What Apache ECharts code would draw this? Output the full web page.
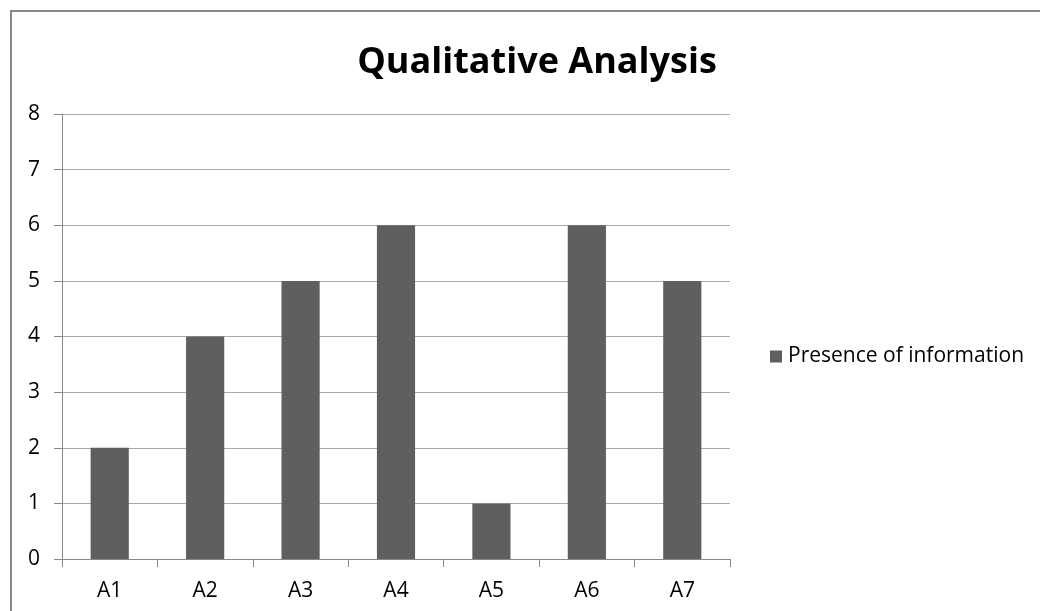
<!DOCTYPE html>
<html><head><meta charset="utf-8">
<script src="https://cdn.jsdelivr.net/npm/echarts@6/dist/echarts.min.js"></script>
<style>html,body{margin:0;padding:0;background:#fff}#c{width:1040px;height:611px}</style>
</head><body><div id="c"></div>
<script>
const categories = ['A1','A2','A3','A4','A5','A6','A7'];
const values = [2,4,5,6,1,6,5];
const seriesName = 'Presence of information';
const chart = echarts.init(document.getElementById('c'));
const font = '"Open Sans", sans-serif';
chart.setOption({
  animation: false,
  backgroundColor: '#fff',
  graphic: [{type:'rect', shape:{x:11,y:11,width:1200,height:800}, style:{fill:'none', stroke:'#888', lineWidth:2}, silent:true}],
  title: {text:'Qualitative Analysis', left:532, top:40, textAlign:'center',
    textStyle:{fontFamily:font, fontWeight:'bold', fontSize:36, color:'#000'}},
  legend: {orient:'vertical', left:765, top:341, icon:'rect', itemWidth:12, itemHeight:12, itemGap:8,
    textStyle:{fontFamily:font, fontSize:21, color:'#000', padding:[0,0,0,1]}, data:[seriesName]},
  grid: {left:62, right:310, top:114, bottom:52},
  xAxis: {type:'category', data:categories,
    axisLine:{lineStyle:{color:'#888', width:1}},
    axisTick:{show:true, length:8, lineStyle:{color:'#888'}},
    axisLabel:{fontFamily:font, fontSize:21, color:'#000', margin:22}},
  yAxis: {type:'value', min:0, max:8, interval:1,
    axisLine:{show:true, lineStyle:{color:'#888'}},
    axisTick:{show:true, length:8, lineStyle:{color:'#888'}},
    splitLine:{lineStyle:{color:'#aaa'}},
    axisLabel:{fontFamily:font, fontSize:21, color:'#000', margin:22}},
  series: [{name:seriesName, type:'bar', data:values, barWidth:'40%',
    itemStyle:{color:'#5f5f5f'}}]
});
</script></body></html>
